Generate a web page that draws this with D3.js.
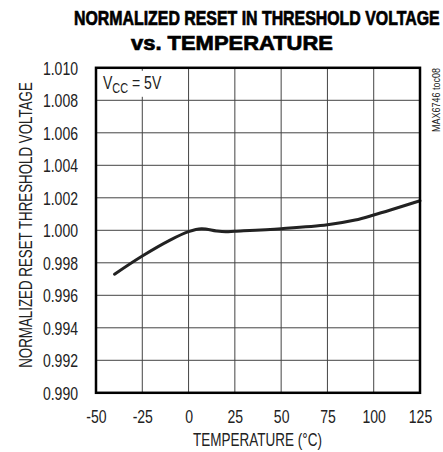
<!DOCTYPE html>
<html><head><meta charset="utf-8">
<script src="https://cdn.jsdelivr.net/npm/d3@7"></script>
<style>
body{margin:0;background:#fff;}
svg{display:block;}
text{font-family:"Liberation Sans",Arial,sans-serif;fill:#222;}
</style></head>
<body>
<svg id="chart" width="443" height="452"></svg>
<script>
const temps = [-40, -25, -10, 0, 7, 15, 20, 25, 50, 75, 90, 100, 125];
const values = [0.9973, 0.99842, 0.99940, 0.99992, 1.00010, 0.99996, 0.99991, 0.99994, 1.00010, 1.00034, 1.00063, 1.00094, 1.00182];
const xTicks = [-50, -25, 0, 25, 50, 75, 100, 125];
const yTicks = [0.990, 0.992, 0.994, 0.996, 0.998, 1.000, 1.002, 1.004, 1.006, 1.008, 1.010];
const titleLines = ["NORMALIZED RESET IN THRESHOLD VOLTAGE", "vs. TEMPERATURE"];
const xTitle = "TEMPERATURE (°C)";
const yTitle = "NORMALIZED RESET THRESHOLD VOLTAGE";

const svg = d3.select("#chart");
const L = 96, R = 420, T = 67.8, B = 392.8;
const x = d3.scaleLinear().domain([-50, 125]).range([L, R]);
const y = d3.scaleLinear().domain([0.990, 1.010]).range([B, T]);
const NARROW = 0.78;

// helper: squeeze a text horizontally to a target width using a transform
function fitText(sel, tx, ty, width, rot) {
  const len = sel.node().getComputedTextLength();
  const s = width / len;
  sel.attr("transform", `translate(${tx},${ty})` + (rot ? ` rotate(${rot})` : "") + ` scale(${s},1)`);
}

// title
const t1 = svg.append("text").style("font-weight", "bold").style("font-size", "20px").style("fill", "#000")
  .attr("stroke", "#000").attr("stroke-width", 0.7).text(titleLines[0]);
fitText(t1, 74, 25, 366);
const t2 = svg.append("text").style("font-weight", "bold").style("font-size", "20px").style("fill", "#000")
  .attr("stroke", "#000").attr("stroke-width", 0.7).text(titleLines[1]);
fitText(t2, 131, 50, 202);

// grid
const g = svg.append("g");
g.selectAll(".vg").data(xTicks.slice(1, -1)).join("line")
  .attr("x1", d => x(d)).attr("x2", d => x(d)).attr("y1", T).attr("y2", B)
  .attr("stroke", "#444").attr("stroke-width", 1);
g.selectAll(".hg").data(yTicks.slice(1, -1)).join("line")
  .attr("x1", L).attr("x2", R).attr("y1", d => y(d)).attr("y2", d => y(d))
  .attr("stroke", "#444").attr("stroke-width", 1);

// legend box background
svg.append("rect").attr("x", L + 2).attr("y", T + 3).attr("width", 70).attr("height", 26).attr("fill", "#fff");
const leg = svg.append("text").attr("transform", `translate(103,89) scale(${NARROW},1)`).style("font-size", "18px");
leg.append("tspan").text("V");
leg.append("tspan").attr("dy", 4).style("font-size", "14px").text("CC");
leg.append("tspan").attr("dy", -4).text(" = 5V");

// curve
const line = d3.line().x((d, i) => x(temps[i])).y(d => y(d)).curve(d3.curveCatmullRom.alpha(0.5));
svg.append("path").datum(values).attr("d", line).attr("fill", "none")
  .attr("stroke", "#222").attr("stroke-width", 3).attr("stroke-linecap", "round");

// frame
svg.append("rect").attr("x", L).attr("y", T).attr("width", R - L).attr("height", B - T)
  .attr("fill", "none").attr("stroke", "#000").attr("stroke-width", 2.5);

// axes labels
const xAxis = d3.axisBottom(x).tickValues(xTicks).tickSize(0).tickPadding(0).tickFormat(d => String(d));
const xa = svg.append("g").attr("transform", `translate(0,${B + 17})`).call(xAxis);
xa.select(".domain").remove();
xa.selectAll("text").style("font-size", "18px").attr("dy", "0.71em").attr("transform", `scale(${NARROW},1)`)
  .style("font-family", null).attr("fill", null);

const yAxis = d3.axisLeft(y).tickValues(yTicks).tickSize(0).tickPadding(0).tickFormat(d3.format(".3f"));
const ya = svg.append("g").attr("transform", `translate(78,0)`).call(yAxis);
ya.select(".domain").remove();
ya.selectAll("text").style("font-size", "18px").attr("dy", "0.35em").attr("transform", `scale(${NARROW},1)`)
  .style("font-family", null).attr("fill", null);

const xt = svg.append("text").style("font-size", "18px").text(xTitle);
fitText(xt, 193, 446, 129);
const yt = svg.append("text").attr("text-anchor", "middle").style("font-size", "18px").text(yTitle);
fitText(yt, 32, 225, 286, -90);

const mt = svg.append("text").attr("text-anchor", "middle").style("font-size", "10px").text("MAX6746 toc08");
fitText(mt, 440, 100, 64, -90);
</script>
</body></html>
